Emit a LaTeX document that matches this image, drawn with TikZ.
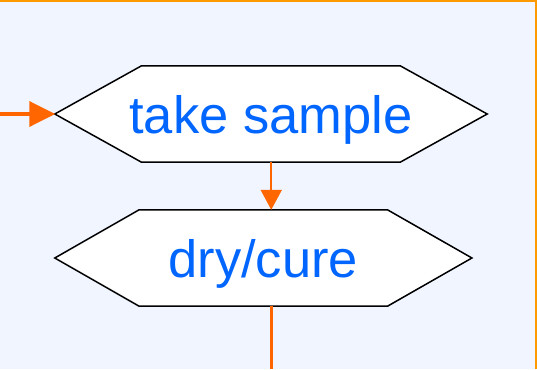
\documentclass[tikz,border=0pt]{standalone}
\usepackage{fontspec}
\setmainfont{Liberation Sans}
\usetikzlibrary{arrows.meta}
\definecolor{bgblue}{HTML}{F0F5FF}
\definecolor{frameorange}{HTML}{FF9900}
\definecolor{arroworange}{HTML}{FF6600}
\definecolor{textblue}{HTML}{0066FF}
\begin{document}
\begin{tikzpicture}[x=1pt,y=-1pt,
  body/.style={inner sep=0pt, minimum height=96pt},
  label text/.style={inner sep=0pt, anchor=base, text=textblue, font=\fontsize{52.5}{60}\selectfont},
  hexbox/.style={draw=black, fill=white, line width=1.5pt, line join=miter},
  flow/.style={draw=arroworange, line width=2pt},
  thickflow/.style={draw=arroworange, line width=3.5pt}]
\useasboundingbox (0,0) rectangle (537,369);
\fill[bgblue] (0,0) rectangle (537,369);
\draw[frameorange, line width=2.5pt] (0,1) -- (537,1);
\draw[frameorange, line width=1.5pt] (536.2,0) -- (536.2,369);
% hexagon 1
\node[body, minimum width=258.3pt] (take) at (270.85,114) {};
\coordinate (takeL) at ([xshift=-86.7pt]take.west);
\coordinate (takeR) at ([xshift=87pt]take.east);
\path[hexbox] (take.north west) -- (take.north east) -- (takeR) -- (take.south east) -- (take.south west) -- (takeL) -- cycle;
\node[label text] (taketext) at ([yshift=-19pt]take.center) {take sample};
% hexagon 2
\node[body, minimum width=248pt] (dry) at (263.3,258) {};
\coordinate (dryL) at ([xshift=-84.3pt]dry.west);
\coordinate (dryR) at ([xshift=84.4pt]dry.east);
\path[hexbox] (dry.north west) -- (dry.north east) -- (dryR) -- (dry.south east) -- (dry.south west) -- (dryL) -- cycle;
\node[label text] (drytext) at ([yshift=-19pt]dry.center) {dry/cure};
% connectors
\coordinate (inL) at (0,114);
\coordinate (outB) at (271.3,369);
\draw[thickflow, -{Triangle[length=26pt,width=25pt]}, shorten >=-0.5pt] (inL) -- (takeL);
\draw[flow, -{Triangle[length=20pt,width=21pt]}] ([xshift=0.4pt]take.south) -- ([xshift=0.4pt]take.south |- dry.north);
\draw[thickflow] (outB |- dry.south) -- (outB);
\end{tikzpicture}
\end{document}
